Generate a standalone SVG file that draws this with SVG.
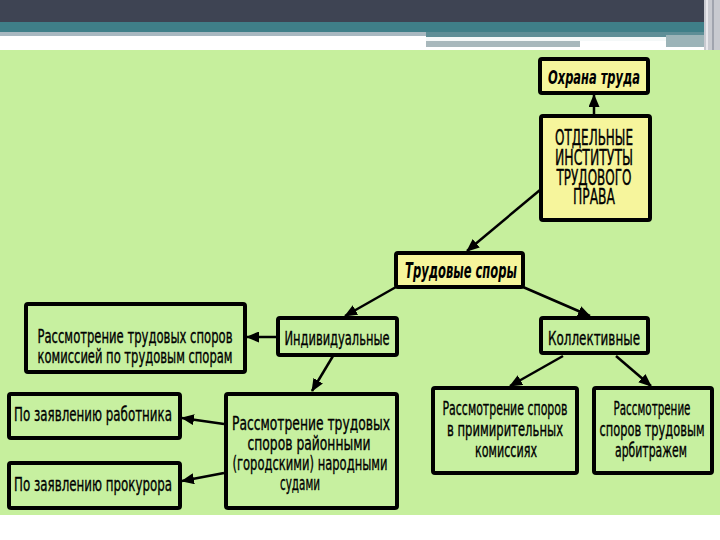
<svg xmlns="http://www.w3.org/2000/svg" width="720" height="540" viewBox="0 0 720 540">
<defs>
<marker id="ah" markerUnits="userSpaceOnUse" markerWidth="13" markerHeight="11" refX="12" refY="5.5" orient="auto">
<path d="M0,0 L13,5.5 L0,11 z" fill="#000"/>
</marker>
<style>
.box{stroke:#000;stroke-width:4;}
.y{fill:#f6f59c;}
.g{fill:#c7f0a0;}
.t{font-family:"Liberation Sans Narrow","DejaVu Sans Condensed","Liberation Sans",sans-serif;fill:#000;text-anchor:middle;stroke:#000;stroke-width:0.35;}
.bi{font-weight:bold;font-style:italic;stroke-width:0;}
.c{stroke:#000;stroke-width:2.5;fill:none;marker-end:url(#ah);}
</style>
</defs>
<rect x="0" y="0" width="720" height="540" fill="#ffffff"/>
<rect x="0" y="0" width="720" height="23" fill="#3e4453"/>
<rect x="0" y="22" width="720" height="11" fill="#3f7f88"/>
<rect x="0" y="32" width="426" height="4" fill="#a8b8c0"/>
<rect x="426" y="32" width="280" height="5" fill="#5e8e96"/>
<rect x="426" y="37" width="240" height="4" fill="#f4f8f8"/>
<rect x="426" y="41" width="154" height="6" fill="#a8b8bc"/>
<rect x="666" y="35" width="40" height="12" fill="#9cb4b8"/>
<rect x="704" y="0" width="16" height="50" fill="#c8cad0"/>
<rect x="706" y="0" width="2" height="50" fill="#e8e8ec"/>
<rect x="712" y="0" width="2" height="50" fill="#a0a4ae"/>
<rect x="0" y="50" width="720" height="465" fill="#c6ef9d"/>

<g id="connectors">
<line class="c" x1="594" y1="115" x2="594" y2="95"/>
<line class="c" x1="540" y1="190" x2="467" y2="251"/>
<line class="c" x1="396" y1="287" x2="345" y2="316"/>
<line class="c" x1="523" y1="287" x2="590" y2="316"/>
<line class="c" x1="277" y1="337" x2="247" y2="337"/>
<line class="c" x1="333" y1="356" x2="312" y2="391"/>
<line class="c" x1="224" y1="424" x2="182" y2="418"/>
<line class="c" x1="224" y1="473" x2="182" y2="481"/>
<line class="c" x1="563" y1="356" x2="510" y2="386"/>
<line class="c" x1="616" y1="356" x2="651" y2="386"/>
</g>

<g id="ohrana">
<rect class="box y" x="540" y="59" width="108" height="34" rx="2"/>
<text class="t bi" x="594" y="84" font-size="20" textLength="92" lengthAdjust="spacingAndGlyphs">Охрана труда</text>
</g>

<g id="instituty">
<rect class="box y" x="541" y="116" width="109" height="104" rx="2"/>
<text class="t" x="594" y="145" font-size="21" textLength="78" lengthAdjust="spacingAndGlyphs">ОТДЕЛЬНЫЕ</text>
<text class="t" x="594" y="165" font-size="21" textLength="78" lengthAdjust="spacingAndGlyphs">ИНСТИТУТЫ</text>
<text class="t" x="594" y="185" font-size="21" textLength="75" lengthAdjust="spacingAndGlyphs">ТРУДОВОГО</text>
<text class="t" x="594" y="204" font-size="21" textLength="42" lengthAdjust="spacingAndGlyphs">ПРАВА</text>
</g>

<g id="trudovye-spory">
<rect class="box y" x="396" y="253" width="127" height="34" rx="2"/>
<text class="t bi" x="461" y="278" font-size="21" textLength="112" lengthAdjust="spacingAndGlyphs">Трудовые споры</text>
</g>

<g id="individualnye">
<rect class="box g" x="278" y="318" width="119" height="37" rx="2"/>
<text class="t" x="337" y="345" font-size="20" textLength="105" lengthAdjust="spacingAndGlyphs">Индивидуальные</text>
</g>

<g id="komissiey">
<rect class="box g" x="26" y="304" width="219" height="68" rx="2"/>
<text class="t" x="135" y="343" font-size="19" textLength="195" lengthAdjust="spacingAndGlyphs">Рассмотрение трудовых споров</text>
<text class="t" x="135" y="363" font-size="19" textLength="195" lengthAdjust="spacingAndGlyphs">комиссией по трудовым спорам</text>
</g>

<g id="rayonnymi">
<rect class="box g" x="226" y="394" width="171" height="114" rx="2"/>
<text class="t" x="311" y="430" font-size="19" textLength="158" lengthAdjust="spacingAndGlyphs">Рассмотрение трудовых</text>
<text class="t" x="309" y="450" font-size="19" textLength="123" lengthAdjust="spacingAndGlyphs">споров районными</text>
<text class="t" x="310" y="470" font-size="19" textLength="155" lengthAdjust="spacingAndGlyphs">(городскими) народными</text>
<text class="t" x="300" y="490" font-size="19" textLength="40" lengthAdjust="spacingAndGlyphs">судами</text>
</g>

<g id="rabotnika">
<rect class="box g" x="9" y="394" width="171" height="44" rx="2"/>
<text class="t" x="93" y="421" font-size="20" textLength="158" lengthAdjust="spacingAndGlyphs">По заявлению работника</text>
</g>

<g id="prokurora">
<rect class="box g" x="9" y="463" width="171" height="45" rx="2"/>
<text class="t" x="93" y="491" font-size="20" textLength="158" lengthAdjust="spacingAndGlyphs">По заявлению прокурора</text>
</g>

<g id="kollektivnye">
<rect class="box g" x="541" y="318" width="107" height="35" rx="2"/>
<text class="t" x="594" y="345" font-size="20" textLength="92" lengthAdjust="spacingAndGlyphs">Коллективные</text>
</g>

<g id="primiritelnyh">
<rect class="box g" x="433" y="388" width="144" height="85" rx="2"/>
<text class="t" x="505" y="415" font-size="19" textLength="125" lengthAdjust="spacingAndGlyphs">Рассмотрение споров</text>
<text class="t" x="505" y="436" font-size="19" textLength="116" lengthAdjust="spacingAndGlyphs">в примирительных</text>
<text class="t" x="506" y="457" font-size="19" textLength="62" lengthAdjust="spacingAndGlyphs">комиссиях</text>
</g>

<g id="arbitrazhem">
<rect class="box g" x="594" y="388" width="118" height="85" rx="2"/>
<text class="t" x="652" y="415" font-size="19" textLength="77" lengthAdjust="spacingAndGlyphs">Рассмотрение</text>
<text class="t" x="652" y="436" font-size="19" textLength="105" lengthAdjust="spacingAndGlyphs">споров трудовым</text>
<text class="t" x="651" y="457" font-size="19" textLength="72" lengthAdjust="spacingAndGlyphs">арбитражем</text>
</g>
</svg>
